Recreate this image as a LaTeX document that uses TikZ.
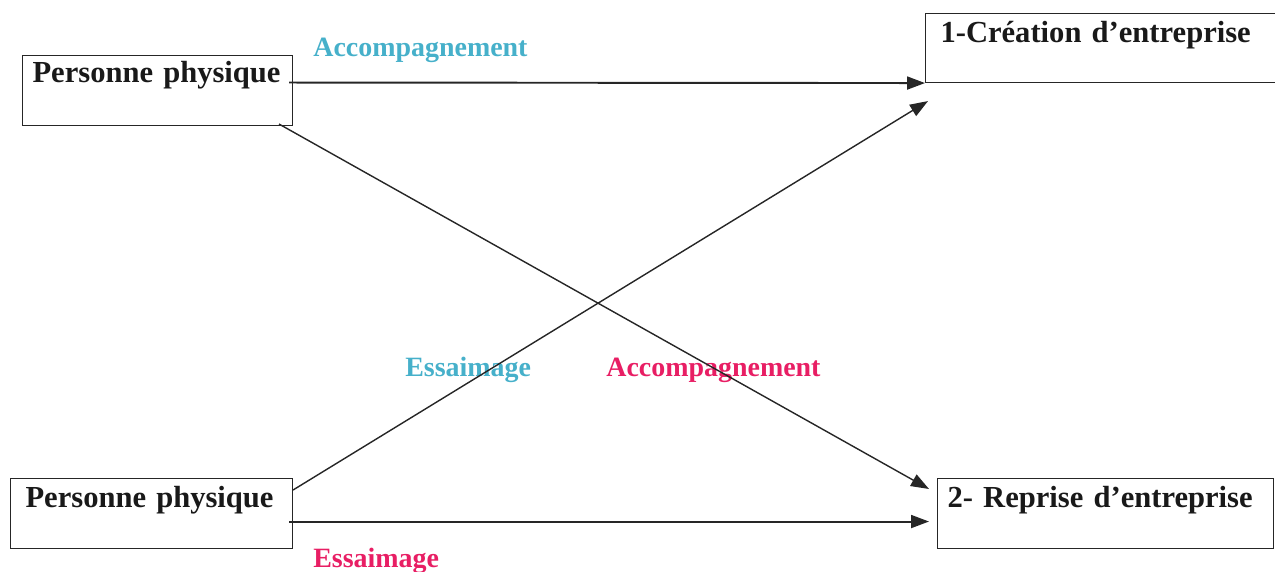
\documentclass[tikz,border=0pt]{standalone}
\usepackage{fontspec}
\setmainfont{Liberation Serif}
\usetikzlibrary{arrows.meta}
\definecolor{accblue}{RGB}{70,176,202}
\definecolor{essred}{RGB}{232,30,100}
\tikzset{box/.style={draw=black!85, text=black!90, line width=0.6pt, anchor=north west, inner ysep=0pt, align=left,
    font=\fontsize{17.4}{20}\selectfont\bfseries},
arr/.style={draw=black!85, line width=0.8pt, -{Triangle[length=3.6mm,width=2.6mm]}},
%labels sit on their baseline
lab/.style={anchor=base west, inner sep=0pt, font=\fontsize{15.9}{18}\selectfont\bfseries}}

\begin{document}
\begin{tikzpicture}[x=0.2mm, y=-0.2mm]

    \useasboundingbox (0,0) rectangle (1275,571);

    \node[box, inner xsep=2mm, text width=50mm, text height=5.4mm, text depth=8.6mm] (pp1) at (22,55) {Personne~physique};
    \node[box, inner xsep=3mm, text width=66mm, text height=5.8mm, text depth=8mm] (creation) at (925,13) {1-Création~d’entreprise};
    \node[box, inner xsep=3mm, text width=50.4mm, text height=5.8mm, text depth=8.2mm] (pp2) at (10,478) {Personne~physique};
    \node[box, inner xsep=2mm, text width=63.2mm, text height=5.8mm, text depth=8.2mm] (reprise) at (937,478) {2-~Reprise~d’entreprise};

    \node[lab, accblue] (acc1) at (313,57) {Accompagnement};
    \node[lab, accblue] (ess1) at (405,376) {Essaimage};
    \node[lab, essred] (acc2) at (606,376) {Accompagnement};
    \node[lab, essred] (ess2) at (313,567) {Essaimage};

    \draw[arr, line width=1.1pt] ([xshift=-0.8mm]pp1.base east) -- (creation.south west);
    \draw[arr] ([xshift=-2.8mm,yshift=0.4mm]pp1.south east) -- ([xshift=-1.6mm,yshift=-2.2mm]reprise.north west);
    \draw[arr] ([yshift=-2.4mm]pp2.north east) -- ([xshift=0.6mm,yshift=-3.6mm]creation.south west);
    \draw[arr, line width=1.1pt] ([xshift=-0.8mm,yshift=-2.8mm]pp2.base east) -- ([xshift=-1.6mm,yshift=-2.8mm]reprise.base west);

\end{tikzpicture}
\end{document}
